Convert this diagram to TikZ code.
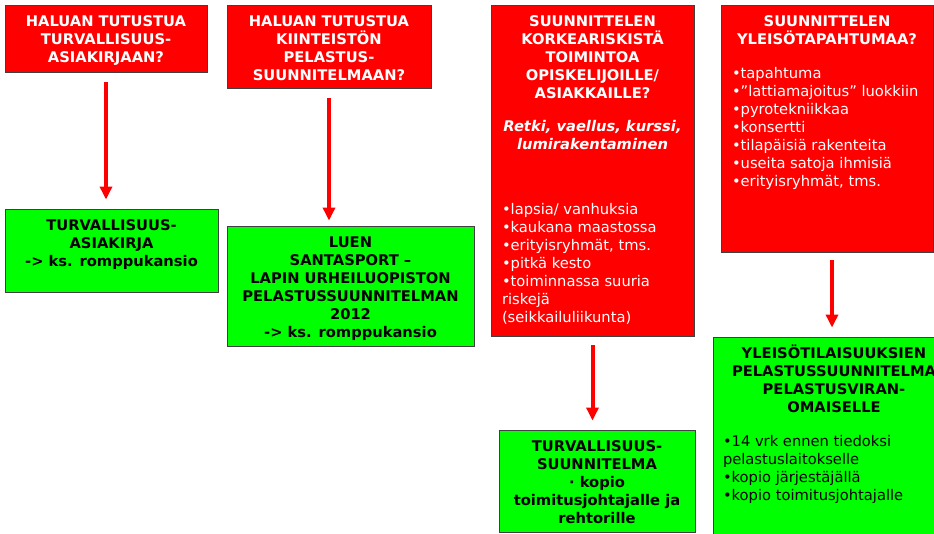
\documentclass[tikz,border=0pt]{standalone}
\usepackage{fontspec}
\setmainfont{DejaVu Sans}
\usetikzlibrary{arrows.meta}
\definecolor{myred}{HTML}{FF0000}
\definecolor{mygreen}{HTML}{00FF00}
\definecolor{myborder}{HTML}{404040}
\newcommand\fnt{\fontsize{14.7}{18}\selectfont}
\newcommand\firstl{\rule{0pt}{14pt}}
\newcommand\bxt[3]{\parbox[c][#2][t]{#1}{\vspace*{7.4pt}#3}}
\tikzset{
  basebox/.style={draw=myborder, line width=0.9pt, inner sep=0pt, font=\fnt},
  redbox/.style={basebox, fill=myred, text=white},
  greenbox/.style={basebox, fill=mygreen, text=black},
  arr/.style={-{Triangle[width=12pt,length=13pt]}, line width=4pt, draw=myred}
}
\begin{document}
\begin{tikzpicture}[x=1pt,y=-1pt]
\useasboundingbox (0,0) rectangle (934,534);
\clip (0,0) rectangle (934,534);
\fill[white] (0,0) rectangle (934,534);

\node[redbox] (b1) at (106,38.5) {\bxt{202pt}{67pt}{{\centering\bfseries\firstl HALUAN TUTUSTUA\\TURVALLISUUS-\\ASIAKIRJAAN?\par}}};

\node[redbox] (b2) at (329,46.5) {\bxt{204pt}{83pt}{{\centering\bfseries\firstl HALUAN TUTUSTUA\\KIINTEISTÖN\\PELASTUS-\\SUUNNITELMAAN?\par}}};

\node[redbox] (b3) at (592.5,170.5) {\bxt{203pt}{331pt}{{\centering\bfseries\firstl SUUNNITTELEN\\KORKEARISKISTÄ\\TOIMINTOA\\OPISKELIJOILLE/\\ASIAKKAILLE?\par}\vspace{15pt}{\centering\bfseries\itshape Retki, vaellus, kurssi,\\lumirakentaminen\par}\vspace{47pt}{\raggedright\leftskip=11pt •lapsia/ vanhuksia\\•kaukana maastossa\\•erityisryhmät, tms.\\•pitkä kesto\\•toiminnassa suuria\\riskejä\\(seikkailuliikunta)\par}}};

\node[redbox] (b4) at (827,128.5) {\bxt{212pt}{247pt}{{\centering\bfseries\firstl SUUNNITTELEN\\YLEISÖTAPAHTUMAA?\par}\vspace{16pt}{\raggedright\leftskip=11pt •tapahtuma\\•”lattiamajoitus” luokkiin\\•pyrotekniikkaa\\•konsertti\\•tilapäisiä rakenteita\\•useita satoja ihmisiä\\•erityisryhmät, tms.\par}}};

\node[greenbox] (g1) at (111.5,250.5) {\bxt{213pt}{83pt}{{\centering\bfseries\firstl TURVALLISUUS-\\ASIAKIRJA\\-> ks. romppukansio\par}}};

\node[greenbox] (g2) at (350.5,286) {\bxt{247pt}{120pt}{{\centering\bfseries\firstl LUEN\\SANTASPORT –\\LAPIN URHEILUOPISTON\\PELASTUSSUUNNITELMAN\\2012\\-> ks. romppukansio\par}}};

\node[greenbox] (g3) at (597,481) {\bxt{196pt}{102pt}{{\centering\bfseries\firstl TURVALLISUUS-\\SUUNNITELMA\\· kopio\\toimitusjohtajalle ja\\rehtorille\par}}};

\node[greenbox] (g4) at (834,487) {\bxt{242pt}{300pt}{{\centering\bfseries\firstl YLEISÖTILAISUUKSIEN\\PELASTUSSUUNNITELMA\\PELASTUSVIRAN-\\OMAISELLE\par}\vspace{16pt}{\raggedright\leftskip=10pt •14 vrk ennen tiedoksi\\pelastuslaitokselle\\•kopio järjestäjällä\\•kopio toimitusjohtajalle\par}}};

\draw[arr, shorten <=10pt, shorten >=9pt] (b1.south) -- (b1.south |- g1.north);
\draw[arr, shorten <=10pt, shorten >=5pt] (b2.south) -- (b2.south |- g2.north);
\draw[arr, shorten <=9pt, shorten >=9pt] (b3.south) -- (b3.south |- g3.north);
\draw[arr, shorten <=8pt, shorten >=9pt] ([xshift=-2pt]g4.north |- b4.south) -- ([xshift=-2pt]g4.north);
\end{tikzpicture}
\end{document}
